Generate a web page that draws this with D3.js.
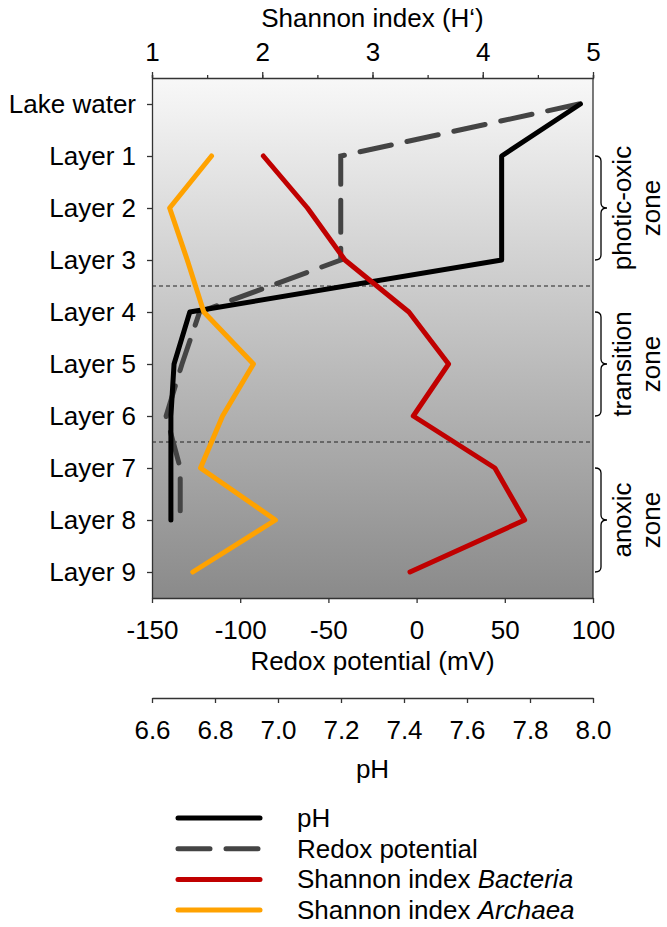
<!DOCTYPE html>
<html>
<head>
<meta charset="utf-8">
<script src="https://cdn.jsdelivr.net/npm/d3@7"></script>
<style>
  body { margin: 0; background: #fff; }
  svg { font-family: "Liberation Sans", Arial, sans-serif; }
  .axis path, .axis line { stroke: #333; stroke-width: 1.3; }
  .axis text { font-size: 26px; fill: #000; }
</style>
</head>
<body>
<div id="graph"></div>
<script>
// depth categories (top to bottom)
var categories = ["Lake water", "Layer 1", "Layer 2", "Layer 3", "Layer 4",
                  "Layer 5", "Layer 6", "Layer 7", "Layer 8", "Layer 9"];

// series values, one per category (null = not measured)
var phValues    = [7.96, 7.71, 7.71, 7.71, 6.72, 6.67, 6.66, 6.66, 6.66, null];
var redoxValues = [92, -43, -43, -43, -123, -133, -142, -134, -134, null];
var bacteriaH   = [null, 2.01, 2.41, 2.75, 3.33, 3.69, 3.37, 4.11, 4.38, 3.34];
var archaeaH    = [null, 1.54, 1.16, 1.32, 1.47, 1.92, 1.64, 1.44, 2.12, 1.37];

// tick labels
var shannonTicks = [1, 2, 3, 4, 5];
var redoxTicks = [-150, -100, -50, 0, 50, 100];
var phTicks = [6.6, 6.8, 7.0, 7.2, 7.4, 7.6, 7.8, 8.0];

// zones
var zoneNames = [["photic-oxic", "zone"], ["transition", "zone"], ["anoxic", "zone"]];
var zoneStart = ["Layer 1", "Layer 4", "Layer 7"];
var zoneEnd   = ["Layer 3", "Layer 6", "Layer 9"];

var margin = {top: 78, right: 74, bottom: 329, left: 152},
    width = 667 - margin.left - margin.right,
    height = 927 - margin.top - margin.bottom;

var svg = d3.select("#graph").append("svg")
    .attr("width", 667)
    .attr("height", 927)
  .append("g")
    .attr("transform", "translate(" + margin.left + "," + margin.top + ")");

// scales
var y = d3.scalePoint().domain(categories).range([0, height]).padding(0.5);
var xShannon = d3.scaleLinear().domain([1, 5]).range([0, width]);
var xRedox = d3.scaleLinear().domain([-150, 100]).range([0, width]);
var xPh = d3.scaleLinear().domain([6.6, 8.0]).range([0, width]);

// background gradient
var grad = svg.append("defs").append("linearGradient")
    .attr("id", "bg").attr("x1", 0).attr("y1", 0).attr("x2", 0).attr("y2", 1);
grad.append("stop").attr("offset", "0%").attr("stop-color", "#f8f8f8");
grad.append("stop").attr("offset", "100%").attr("stop-color", "#8a8a8a");

svg.append("rect")
    .attr("width", width)
    .attr("height", height)
    .attr("fill", "url(#bg)");

// right border
svg.append("line")
    .attr("x1", width).attr("x2", width)
    .attr("y1", 0).attr("y2", height)
    .attr("stroke", "#333").attr("stroke-width", 1.3);

// zone separators (dotted)
for (var i = 0; i < zoneEnd.length - 1; i++) {
  var ys = (y(zoneEnd[i]) + y(zoneStart[i + 1])) / 2;
  svg.append("line")
      .attr("x1", 0).attr("x2", width)
      .attr("y1", ys).attr("y2", ys)
      .attr("stroke", "#222")
      .attr("stroke-width", 1)
      .attr("stroke-dasharray", "4,3");
}

// lines
var mkLine = function(xs) {
  return d3.line()
      .defined(function(d) { return d[1] != null; })
      .x(function(d) { return xs(d[1]); })
      .y(function(d) { return y(d[0]); });
};
var pairs = function(vals) {
  return categories.map(function(c, i) { return [c, vals[i]]; });
};

svg.append("path")
    .attr("d", mkLine(xRedox)(pairs(redoxValues)))
    .attr("fill", "none").attr("stroke", "#444").attr("stroke-width", 5)
    .attr("stroke-dasharray", "32,16").attr("stroke-linecap", "round");

svg.append("path")
    .attr("d", mkLine(xPh)(pairs(phValues)))
    .attr("fill", "none").attr("stroke", "#000").attr("stroke-width", 5)
    .attr("stroke-linejoin", "round").attr("stroke-linecap", "round");

svg.append("path")
    .attr("d", mkLine(xShannon)(pairs(bacteriaH)))
    .attr("fill", "none").attr("stroke", "#c00000").attr("stroke-width", 5)
    .attr("stroke-linejoin", "round").attr("stroke-linecap", "round");

svg.append("path")
    .attr("d", mkLine(xShannon)(pairs(archaeaH)))
    .attr("fill", "none").attr("stroke", "#ffa200").attr("stroke-width", 5)
    .attr("stroke-linejoin", "round").attr("stroke-linecap", "round");

// top axis: Shannon index, with half-step minor ticks
svg.append("g")
    .attr("class", "axis")
    .call(d3.axisTop(xShannon).tickValues(d3.range(1, 5.01, 0.5)).tickSize(3).tickFormat(""));
svg.append("g")
    .attr("class", "axis")
    .call(d3.axisTop(xShannon).tickValues(shannonTicks).tickSize(6).tickPadding(11)
      .tickFormat(function(d) { return String(d); }))
    .select(".domain").remove();

svg.append("text")
    .attr("x", width / 2).attr("y", -51)
    .attr("text-anchor", "middle")
    .style("font-size", "26px")
    .text("Shannon index (H\u2018)");

// left axis: categories
svg.append("g")
    .attr("class", "axis")
    .call(d3.axisLeft(y).tickSize(5).tickPadding(11).tickSizeOuter(0));

// bottom axis: redox potential (plain hyphen for negatives)
svg.append("g")
    .attr("class", "axis")
    .attr("transform", "translate(0," + height + ")")
    .call(d3.axisBottom(xRedox).tickValues(redoxTicks).tickSize(5).tickPadding(18).tickSizeOuter(0)
      .tickFormat(function(d) { return String(d); }));

svg.append("text")
    .attr("x", width / 2).attr("y", height + 72)
    .attr("text-anchor", "middle")
    .style("font-size", "26px")
    .text("Redox potential (mV)");

// second bottom axis: pH
svg.append("g")
    .attr("class", "axis")
    .attr("transform", "translate(0," + (height + 100) + ")")
    .call(d3.axisBottom(xPh).tickValues(phTicks).tickSize(5).tickPadding(18).tickSizeOuter(0)
      .tickFormat(function(d) { return d.toFixed(1); }));

svg.append("text")
    .attr("x", width / 2).attr("y", height + 180)
    .attr("text-anchor", "middle")
    .style("font-size", "26px")
    .text("pH");

// zone brackets and labels
zoneNames.forEach(function(names, i) {
  var yt = y(zoneStart[i]), yb = y(zoneEnd[i]), ym = (yt + yb) / 2;
  var x0 = width + 2, x1 = width + 8, x2 = width + 14;
  svg.append("path")
      .attr("d", "M" + x0 + "," + yt + " Q" + x1 + "," + yt + " " + x1 + "," + (yt + 5) +
                 " L" + x1 + "," + (ym - 5) + " Q" + x1 + "," + ym + " " + x2 + "," + ym +
                 " Q" + x1 + "," + ym + " " + x1 + "," + (ym + 5) +
                 " L" + x1 + "," + (yb - 5) + " Q" + x1 + "," + yb + " " + x0 + "," + yb)
      .attr("fill", "none").attr("stroke", "#000").attr("stroke-width", 1.3);
  names.forEach(function(n, j) {
    svg.append("text")
        .attr("transform", "translate(" + (width + 38 + j * 29) + "," + ym + ") rotate(-90)")
        .attr("text-anchor", "middle")
        .style("font-size", "26px")
        .text(n);
  });
});

// legend
var legendNames = ["pH", "Redox potential", "Shannon index ", "Shannon index "];
var legendItalic = ["", "", "Bacteria", "Archaea"];
var legendColors = ["#000", "#444", "#c00000", "#ffa200"];
var legendDash = [null, "32,16", null, null];

var legend = svg.append("g").attr("transform", "translate(" + (176 - margin.left) + "," + (818 - margin.top) + ")");
legendNames.forEach(function(n, i) {
  var g = legend.append("g").attr("transform", "translate(0," + (i * 30.7) + ")");
  g.append("line")
      .attr("x1", 2).attr("x2", 84)
      .attr("stroke", legendColors[i]).attr("stroke-width", 5)
      .attr("stroke-linecap", "round")
      .attr("stroke-dasharray", legendDash[i]);
  var t = g.append("text")
      .attr("x", 121).attr("y", 9)
      .style("font-size", "26px")
      .text(n);
  t.append("tspan").style("font-style", "italic").text(legendItalic[i]);
});
</script>
</body>
</html>
